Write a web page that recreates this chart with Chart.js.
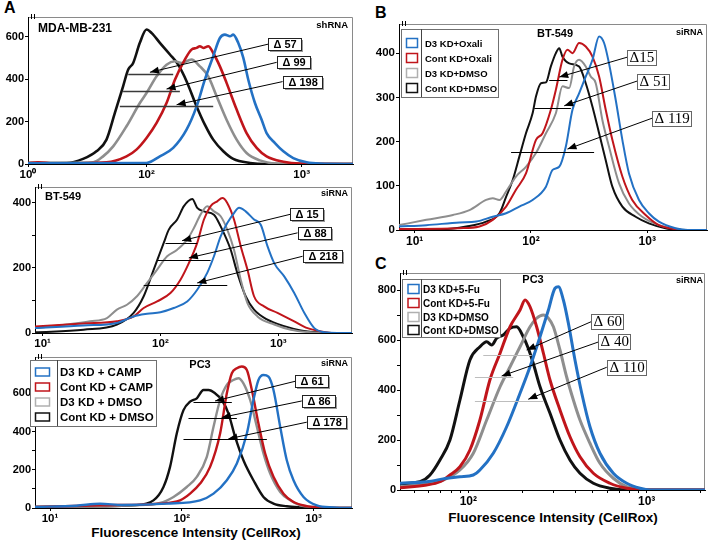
<!DOCTYPE html>
<html>
<head>
<meta charset="utf-8">
<script src="https://cdn.jsdelivr.net/npm/chart.js@4.4.0/dist/chart.umd.min.js"></script>
<style>
  body { margin: 0; width: 708px; height: 541px; background: #fff; position: relative; overflow: hidden; }
  canvas { position: absolute; }
  .letter { position: absolute; font: bold 16px "Liberation Sans", Arial, sans-serif; line-height: 1; }
  .xtitle { position: absolute; font: bold 13.5px "Liberation Sans", Arial, sans-serif; line-height: 1; white-space: nowrap; transform: translateX(-50%); }
</style>
</head>
<body>
<div class="letter" style="left:4px;top:0px">A</div>
<div class="letter" style="left:375px;top:5px">B</div>
<div class="letter" style="left:375px;top:256px">C</div>
<div class="xtitle" style="left:196px;top:526px">Fluorescence Intensity (CellRox)</div>
<div class="xtitle" style="left:553px;top:511px">Fluorescence Intensity (CellRox)</div>
<canvas id="a1"></canvas>
<canvas id="a2"></canvas>
<canvas id="a3"></canvas>
<canvas id="b1"></canvas>
<canvas id="c1"></canvas>
<script>
const FONT = '"Liberation Sans", Arial, sans-serif';
Chart.defaults.font.family = FONT;
Chart.defaults.color = '#000';

// x = log10(CellRox intensity), y = cell count

// A, MDA-MB-231 (shRNA)
const mdaBlue = [[1.236,3],[2.0,5],[2.086,36],[2.172,76],[2.258,162],[2.323,272],[2.376,398],[2.430,509],[2.473,595],[2.505,611],[2.538,603],[2.559,611],[2.591,572],[2.624,501],[2.656,398],[2.699,288],[2.742,209],[2.774,146],[2.828,99],[2.882,60],[2.946,28],[3.032,8],[3.118,2],[3.331,0]];
const mdaRed = [[1.236,4],[1.30,8],[1.40,3],[1.742,8],[1.871,36],[1.935,68],[2.0,123],[2.065,194],[2.129,288],[2.183,398],[2.247,493],[2.290,540],[2.323,548],[2.344,556],[2.366,548],[2.398,556],[2.430,524],[2.473,461],[2.516,383],[2.581,257],[2.645,146],[2.710,76],[2.774,36],[2.882,11],[2.989,2],[3.331,0]];
const mdaGray = [[1.236,4],[1.656,8],[1.720,36],[1.785,83],[1.871,178],[1.957,288],[2.0,335],[2.065,414],[2.129,469],[2.183,485],[2.226,477],[2.290,493],[2.344,461],[2.398,414],[2.452,320],[2.516,209],[2.581,115],[2.645,52],[2.731,17],[2.839,2],[2.95,0],[3.331,0]];
const mdaBlack = [[1.236,4],[1.484,5],[1.591,24],[1.677,60],[1.742,115],[1.796,241],[1.849,367],[1.882,446],[1.914,477],[1.957,572],[2.0,635],[2.032,619],[2.086,572],[2.151,517],[2.204,469],[2.258,391],[2.323,272],[2.376,186],[2.430,115],[2.495,60],[2.559,24],[2.667,5],[2.774,0],[3.331,0]];

// A, BT-549 (siRNA)
const btABlue = [[0.936,15],[1.348,23],[1.631,31],[1.773,51],[1.887,59],[2.0,64],[2.113,77],[2.227,97],[2.312,133],[2.397,185],[2.454,236],[2.511,297],[2.567,338],[2.624,369],[2.667,385],[2.723,374],[2.794,349],[2.851,333],[2.908,267],[2.965,215],[3.050,174],[3.135,123],[3.220,62],[3.305,15],[3.390,2],[3.50,0],[3.625,0]];
const btARed = [[0.936,20],[1.348,29],[1.631,36],[1.773,51],[1.858,77],[1.972,97],[2.085,123],[2.170,164],[2.241,215],[2.312,277],[2.369,349],[2.426,390],[2.482,405],[2.525,415],[2.567,400],[2.624,349],[2.681,267],[2.738,195],[2.794,113],[2.879,82],[2.993,62],[3.135,36],[3.248,15],[3.362,5],[3.475,0],[3.625,0]];
const btAGray = [[0.936,15],[1.206,26],[1.404,36],[1.546,46],[1.631,72],[1.716,87],[1.801,113],[1.887,154],[1.972,195],[2.057,236],[2.142,256],[2.227,287],[2.284,323],[2.340,364],[2.397,390],[2.454,374],[2.511,359],[2.567,318],[2.624,256],[2.681,164],[2.738,92],[2.823,51],[2.965,26],[3.106,10],[3.248,3],[3.40,0],[3.625,0]];
const btABlack = [[0.936,2],[1.348,10],[1.631,26],[1.773,62],[1.858,113],[1.943,195],[2.028,277],[2.071,318],[2.142,349],[2.199,390],[2.270,412],[2.312,385],[2.369,374],[2.454,364],[2.511,328],[2.596,256],[2.652,185],[2.723,113],[2.794,72],[2.908,41],[3.050,21],[3.191,8],[3.333,2],[3.45,0],[3.625,0]];

// A, PC3 (siRNA)
const pcABlue = [[0.886,5],[1.20,12],[1.38,22],[1.55,16],[1.886,23],[2.139,40],[2.241,75],[2.342,145],[2.418,233],[2.494,390],[2.544,565],[2.582,670],[2.620,696],[2.658,687],[2.696,617],[2.747,425],[2.797,250],[2.848,145],[2.924,58],[3.025,14],[3.152,3],[3.25,0],[3.292,0]];
const pcARed = [[0.886,5],[1.380,14],[1.835,23],[1.987,40],[2.063,75],[2.139,128],[2.215,215],[2.291,390],[2.342,600],[2.380,705],[2.418,731],[2.456,740],[2.494,722],[2.532,617],[2.582,442],[2.633,285],[2.696,163],[2.772,75],[2.848,31],[2.949,10],[3.051,3],[3.15,0],[3.292,0]];
const pcAGray = [[0.886,5],[1.633,14],[1.835,26],[1.937,58],[2.038,110],[2.114,163],[2.190,268],[2.241,425],[2.291,565],[2.342,644],[2.392,670],[2.430,679],[2.468,652],[2.519,565],[2.570,425],[2.620,285],[2.671,180],[2.747,84],[2.823,40],[2.899,14],[3.025,5],[3.10,0],[3.292,0]];
const pcABlack = [[0.886,5],[1.380,9],[1.633,14],[1.785,40],[1.861,110],[1.911,215],[1.962,390],[2.013,512],[2.063,556],[2.114,574],[2.165,617],[2.203,617],[2.253,600],[2.304,565],[2.354,495],[2.405,372],[2.468,250],[2.544,145],[2.620,58],[2.696,23],[2.797,9],[2.899,3],[3.0,0],[3.292,0]];

// B, BT-549 (siRNA)
const btBBlue = [[0.865,8],[1.1,11],[1.386,17],[1.529,19],[1.671,30],[1.786,38],[1.9,53],[2.014,68],[2.129,98],[2.186,136],[2.243,143],[2.3,189],[2.357,272],[2.414,309],[2.471,347],[2.529,385],[2.586,438],[2.629,423],[2.671,377],[2.729,294],[2.786,204],[2.843,128],[2.929,68],[3.014,38],[3.1,19],[3.243,4],[3.35,0],[3.514,0]];
const btBRed = [[0.865,2],[1.386,4],[1.557,8],[1.671,23],[1.786,53],[1.871,91],[1.957,128],[2.043,204],[2.1,219],[2.171,272],[2.214,317],[2.271,385],[2.314,408],[2.357,400],[2.414,423],[2.471,415],[2.529,392],[2.586,347],[2.643,272],[2.7,204],[2.786,121],[2.871,68],[2.986,34],[3.1,11],[3.243,2],[3.35,0],[3.514,0]];
const btBGray = [[0.865,11],[1.1,23],[1.329,34],[1.471,45],[1.614,68],[1.671,72],[1.729,68],[1.786,87],[1.871,121],[1.957,143],[2.043,174],[2.129,219],[2.214,264],[2.271,325],[2.329,321],[2.371,370],[2.414,385],[2.471,370],[2.514,347],[2.557,332],[2.614,249],[2.671,189],[2.757,106],[2.843,60],[2.957,30],[3.1,11],[3.243,3],[3.35,0],[3.514,0]];
const btBBlack = [[0.865,2],[1.243,2],[1.443,8],[1.614,19],[1.729,38],[1.786,75],[1.843,113],[1.9,166],[1.957,219],[2.014,264],[2.043,302],[2.086,332],[2.129,334],[2.171,370],[2.214,400],[2.243,411],[2.271,392],[2.329,377],[2.414,370],[2.471,332],[2.529,279],[2.586,219],[2.643,158],[2.7,98],[2.786,53],[2.9,30],[3.014,15],[3.157,4],[3.271,0],[3.514,0]];

// C, PC3 (siRNA)
const pcCBlue = [[1.617,27],[1.766,33],[1.879,47],[1.953,53],[2.028,60],[2.065,80],[2.140,147],[2.215,253],[2.290,387],[2.346,493],[2.402,613],[2.449,720],[2.486,807],[2.505,813],[2.533,760],[2.561,667],[2.598,520],[2.636,387],[2.682,253],[2.738,147],[2.813,67],[2.888,27],[2.963,7],[3.019,0],[3.327,0]];
const pcCRed = [[1.617,9],[1.766,20],[1.841,33],[1.897,60],[1.953,93],[2.009,160],[2.065,280],[2.121,440],[2.178,547],[2.234,653],[2.290,720],[2.318,760],[2.346,733],[2.383,653],[2.421,547],[2.458,440],[2.514,320],[2.570,213],[2.626,133],[2.701,67],[2.794,27],[2.888,7],[2.981,0],[3.327,0]];
const pcCGray = [[1.617,13],[1.766,24],[1.860,40],[1.953,80],[2.028,147],[2.103,280],[2.178,413],[2.234,493],[2.290,573],[2.346,653],[2.383,687],[2.421,700],[2.449,687],[2.477,653],[2.514,560],[2.551,453],[2.589,360],[2.626,280],[2.682,187],[2.738,107],[2.813,47],[2.888,13],[2.981,0],[3.327,0]];
const pcCBlack = [[1.617,25],[1.729,33],[1.785,60],[1.841,120],[1.897,200],[1.953,360],[2.009,520],[2.065,573],[2.103,593],[2.131,580],[2.159,607],[2.196,620],[2.234,647],[2.271,653],[2.308,613],[2.336,567],[2.364,507],[2.402,413],[2.458,307],[2.514,200],[2.570,120],[2.626,67],[2.701,27],[2.794,7],[2.888,0],[3.327,0]];

const campNames = ['D3 KD + CAMP', 'Cont KD + CAMP', 'D3 KD + DMSO', 'Cont KD + DMSO'];
const oxaliNames = ['D3 KD+Oxali', 'Cont KD+Oxali', 'D3 KD+DMSO', 'Cont KD+DMSO'];
const fuNames = ['D3 KD+5-Fu', 'Cont KD+5-Fu', 'D3 KD+DMSO', 'Cont KD+DMSO'];

// tick labels
const mdaXTicks = [1.236, 2, 3];
const mdaXLabels = ['10⁰', '10²', '10³'];
const stdXTicks = [1, 2, 3];
const stdXLabels = ['10¹', '10²', '10³'];
const pcCXTicks = [2, 3];
const pcCXLabels = ['10²', '10³'];
const pcCMinor = [50, 60, 70, 80, 90, 200, 300, 400, 500, 600, 700, 800, 900, 2000];

const mdaYTicks = [0, 200, 400, 600];
const btAYTicks = [0, 100, 200, 300, 400];
const btAYLabels = [0, 200, 400];
const pcAYTicks = [0, 100, 200, 300, 400, 500, 600, 700];
const pcAYLabels = [0, 200, 400, 600];
const btBYTicks = [0, 100, 200, 300, 400];
const pcCYTicks = [0, 50, 100, 150, 200, 250, 300, 350, 400, 450, 500, 550, 600, 650, 700, 750, 800, 850];
const pcCYLabels = [0, 200, 400, 600, 800];

// delta annotations (data coordinates)
const mdaNotes = [
  { label: 'Δ 57', y: 427, from: 1.882, to: 2.172, tip: [2.022, 433], box: [2.785, 566] },
  { label: 'Δ 99', y: 346, from: 1.849, to: 2.215, tip: [2.129, 354], box: [2.839, 480] },
  { label: 'Δ 198', y: 272, from: 1.828, to: 2.430, tip: [2.194, 280], box: [2.877, 389] }
];
const btANotes = [
  { label: 'Δ 15', y: 277, from: 2.043, to: 2.312, tip: [2.184, 284], box: [3.101, 365] },
  { label: 'Δ 88', y: 226, from: 1.972, to: 2.426, tip: [2.241, 231], box: [3.163, 308] },
  { label: 'Δ 218', y: 149, from: 1.858, to: 2.567, tip: [2.312, 154], box: [3.206, 236] }
];
const pcANotes = [
  { label: 'Δ 61', y: 556, from: 2.089, to: 2.380, tip: [2.253, 560], box: [2.861, 663] },
  { label: 'Δ 86', y: 469, from: 2.051, to: 2.418, tip: [2.304, 474], box: [2.911, 560] },
  { label: 'Δ 178', y: 359, from: 2.013, to: 2.646, tip: [2.354, 362], box: [2.949, 449] }
];
const btBNotes = [
  { label: 'Δ15', y: 340, from: 2.157, to: 2.314, tip: [2.243, 346], box: [2.829, 391] },
  { label: 'Δ 51', y: 275, from: 2.029, to: 2.343, tip: [2.286, 281], box: [2.914, 337] },
  { label: 'Δ 119', y: 177, from: 1.829, to: 2.543, tip: [2.314, 183], box: [3.043, 253] }
];
const pcCNotes = [
  { label: 'Δ 60', y: 540, from: 2.084, to: 2.355, tip: [2.327, 560], box: [2.688, 673] },
  { label: 'Δ 40', y: 451, from: 2.037, to: 2.252, tip: [2.187, 456], box: [2.729, 592] },
  { label: 'Δ 110', y: 357, from: 2.037, to: 2.421, tip: [2.336, 363], box: [2.776, 491] }
];

const colors = ['#2371c4', '#c0151b', '#8e8e8e', '#111111'];

const boxA = { font: 'bold 11px ' + FONT, padX: 5, h: 12, shadow: true, border: '#222', lineColor: '#333' };
const boxB = { font: '15px "Liberation Serif", "Times New Roman", serif', padX: 2, h: 15, shadow: false, border: '#666', lineColor: '#000' };

function line(ctx, x1, y1, x2, y2) {
  ctx.beginPath(); ctx.moveTo(x1, y1); ctx.lineTo(x2, y2); ctx.stroke();
}

const decor = {
  id: 'decor',
  beforeDatasetsDraw(chart) {
    const { ctx, chartArea: a } = chart;
    ctx.save();
    ctx.strokeStyle = '#8a8a8a';
    ctx.lineWidth = 1;
    ctx.beginPath();
    ctx.moveTo(a.left + 1, a.top + 0.5);
    ctx.lineTo(a.right - 0.5, a.top + 0.5);
    ctx.lineTo(a.right - 0.5, a.bottom);
    ctx.stroke();
    ctx.strokeStyle = '#000';
    line(ctx, a.left + 3.5, a.top - 3, a.left + 3.5, a.top + 2);
    line(ctx, a.left + 6.5, a.top - 3, a.left + 6.5, a.top + 2);
    ctx.restore();
  },
  afterDatasetsDraw(chart, args, o) {
    const { ctx, chartArea: a, scales: { x, y } } = chart;
    ctx.save();
    const st = o.style;
    (o.notes || []).forEach(n => {
      const yy = Math.round(y.getPixelForValue(n.y)) + 0.5;
      ctx.strokeStyle = o.lineColor || st.lineColor;
      ctx.lineWidth = o.lineWidth || 1;
      line(ctx, x.getPixelForValue(n.from), yy, x.getPixelForValue(n.to), yy);
      const tx = x.getPixelForValue(n.tip[0]), ty = y.getPixelForValue(n.tip[1]);
      const bx = x.getPixelForValue(n.box[0]), by = y.getPixelForValue(n.box[1]);
      ctx.strokeStyle = '#000';
      ctx.lineWidth = 1;
      line(ctx, bx, by, tx, ty);
      const ang = Math.atan2(ty - by, tx - bx), L = 9, W = 3.5;
      ctx.fillStyle = '#000';
      ctx.beginPath();
      ctx.moveTo(tx, ty);
      ctx.lineTo(tx - L * Math.cos(ang) + W * Math.sin(ang), ty - L * Math.sin(ang) - W * Math.cos(ang));
      ctx.lineTo(tx - L * Math.cos(ang) - W * Math.sin(ang), ty - L * Math.sin(ang) + W * Math.cos(ang));
      ctx.closePath();
      ctx.fill();
      ctx.font = st.font;
      const w = Math.round(ctx.measureText(n.label).width + 2 * st.padX), h = st.h;
      const left = Math.round(bx), top = Math.round(by - h / 2);
      if (st.shadow) { ctx.fillStyle = '#9a9a9a'; ctx.fillRect(left + 2, top + 2, w, h); }
      ctx.fillStyle = '#fff';
      ctx.fillRect(left, top, w, h);
      ctx.strokeStyle = st.border;
      ctx.strokeRect(left + 0.5, top + 0.5, w, h);
      ctx.fillStyle = '#000';
      ctx.textAlign = 'left';
      ctx.textBaseline = 'middle';
      ctx.fillText(n.label, left + st.padX + 0.5, top + h / 2 + 1);
    });
    const lg = o.legend;
    if (lg) {
      const lx = Math.round(a.left + lg.dx), ly = Math.round(a.top + lg.dy);
      ctx.fillStyle = '#fff';
      ctx.fillRect(lx, ly, lg.w, lg.h);
      ctx.strokeStyle = '#707070';
      ctx.lineWidth = 1;
      ctx.strokeRect(lx + 0.5, ly + 0.5, lg.w, lg.h);
      ctx.strokeStyle = '#444';
      line(ctx, lx + lg.sep + 0.5, ly, lx + lg.sep + 0.5, ly + lg.h);
      ctx.font = lg.font;
      ctx.textAlign = 'left';
      ctx.textBaseline = 'middle';
      chart.data.datasets.forEach((d, i) => {
        const cy = Math.round(ly + lg.first + i * lg.step);
        ctx.strokeStyle = i === 2 ? '#b0b0b0' : d.borderColor;
        ctx.lineWidth = 1.5;
        ctx.strokeRect(lx + lg.sx, cy - lg.sh / 2, lg.sw, lg.sh);
        ctx.fillStyle = '#000';
        ctx.fillText(d.label, lx + lg.tx, cy + 1);
      });
    }
    (o.texts || []).forEach(t => {
      ctx.font = t.font;
      ctx.fillStyle = '#000';
      ctx.textAlign = t.align;
      ctx.textBaseline = 'middle';
      const px = t.align === 'right' ? a.right + t.dx : a.left + t.dx;
      ctx.fillText(t.text, px, a.top + t.dy);
    });
    ctx.restore();
  }
};

function makeChart(p) {
  const cv = document.getElementById(p.id);
  cv.width = p.yw + p.w + p.rp;
  cv.height = p.tp + p.h + p.xh;
  cv.style.left = p.left + 'px';
  cv.style.top = p.top + 'px';
  const minor = (p.xMinor || []).map(v => Math.log10(v));
  const xAll = p.xTicks.concat(minor).sort((m, n) => m - n);
  return new Chart(cv, {
    type: 'line',
    data: {
      datasets: p.series.map((s, i) => ({
        label: p.names[i],
        data: s.map(q => ({ x: q[0], y: q[1] })),
        borderColor: colors[i],
        borderWidth: p.lw,
        pointRadius: 0,
        fill: false,
        cubicInterpolationMode: 'monotone'
      }))
    },
    options: {
      responsive: false,
      animation: false,
      events: [],
      layout: { autoPadding: false, padding: { top: p.tp, right: p.rp, left: 0, bottom: 0 } },
      scales: {
        x: {
          type: 'linear',
          min: p.xmin,
          max: p.xmax,
          afterBuildTicks: s => { s.ticks = xAll.map(v => ({ value: v })); },
          afterFit: s => { s.height = p.xh; },
          ticks: {
            autoSkip: false, maxRotation: 0, padding: 1, color: '#000',
            font: { size: p.xFont, weight: 'bold' },
            callback: v => { const k = p.xTicks.indexOf(v); return k >= 0 ? p.xLabels[k] : ''; }
          },
          grid: { drawOnChartArea: false, drawTicks: true, tickLength: 3, color: '#000' },
          border: { color: '#000', width: 1 }
        },
        y: {
          type: 'linear',
          min: 0,
          max: p.ymax,
          afterBuildTicks: s => { s.ticks = p.yTicks.map(v => ({ value: v })); },
          afterFit: s => { s.width = p.yw; },
          ticks: {
            padding: 1, color: '#000',
            font: { size: p.yFont, weight: 'bold' },
            callback: v => (p.yLabels.includes(v) ? String(v) : '')
          },
          grid: { drawOnChartArea: false, drawTicks: true, tickLength: 3, color: '#000' },
          border: { color: '#000', width: 1 }
        }
      },
      plugins: {
        legend: { display: false },
        tooltip: { enabled: false },
        decor: { notes: p.notes, style: p.style, lineColor: p.lineColor, lineWidth: p.lineWidth, legend: p.legend, texts: p.texts }
      }
    },
    plugins: [decor]
  });
}

const titleFont = 'bold 11px ' + FONT;
const tagFont = 'bold 9px ' + FONT;

makeChart({
  id: 'a1', left: 0, top: 0, yw: 28, tp: 17, w: 325, h: 147, rp: 3, xh: 20,
  xmin: 1.236, xmax: 3.331, ymax: 694, lw: 2.6, xFont: 11.5, yFont: 11,
  series: [mdaBlue, mdaRed, mdaGray, mdaBlack], names: campNames,
  xTicks: mdaXTicks, xLabels: mdaXLabels, yTicks: mdaYTicks, yLabels: mdaYTicks,
  notes: mdaNotes, style: boxA, lineColor: '#3a3a3a', lineWidth: 1.6,
  texts: [
    { text: 'MDA-MB-231', font: 'bold 12px ' + FONT, align: 'left', dx: 10, dy: 12 },
    { text: 'shRNA', font: 'bold 9.5px ' + FONT, align: 'right', dx: -5, dy: 8 }
  ]
});

makeChart({
  id: 'a2', left: 0, top: 170, yw: 35, tp: 17, w: 317, h: 146, rp: 3, xh: 20,
  xmin: 0.936, xmax: 3.625, ymax: 449, lw: 2, xFont: 11.5, yFont: 11,
  series: [btABlue, btARed, btAGray, btABlack], names: campNames,
  xTicks: stdXTicks, xLabels: stdXLabels, yTicks: btAYTicks, yLabels: btAYLabels,
  notes: btANotes, style: boxA, lineColor: '#000', lineWidth: 1,
  texts: [
    { text: 'BT-549', font: titleFont, align: 'left', dx: 10, dy: 10 },
    { text: 'siRNA', font: tagFont, align: 'right', dx: -4, dy: 7 }
  ]
});

makeChart({
  id: 'a3', left: 0, top: 340, yw: 35, tp: 17, w: 317, h: 151, rp: 3, xh: 20,
  xmin: 0.886, xmax: 3.292, ymax: 790, lw: 2.4, xFont: 11.5, yFont: 11,
  series: [pcABlue, pcARed, pcAGray, pcABlack], names: campNames,
  xTicks: stdXTicks, xLabels: stdXLabels, yTicks: pcAYTicks, yLabels: pcAYLabels,
  notes: pcANotes, style: boxA, lineColor: '#000', lineWidth: 1,
  legend: { dx: -5, dy: 3, w: 126, h: 66, sep: 27, sx: 5.5, sw: 14, sh: 8, tx: 30, first: 12, step: 15, font: 'bold 11.5px ' + FONT },
  texts: [
    { text: 'PC3', font: titleFont, align: 'center', dx: 165, dy: 8 },
    { text: 'siRNA', font: tagFont, align: 'right', dx: -4, dy: 7 }
  ]
});

makeChart({
  id: 'b1', left: 367, top: 4, yw: 32, tp: 20, w: 308, h: 206, rp: 1, xh: 22,
  xmin: 0.865, xmax: 3.514, ymax: 466, lw: 2, xFont: 12, yFont: 11.5,
  series: [btBBlue, btBRed, btBGray, btBBlack], names: oxaliNames,
  xTicks: stdXTicks, xLabels: stdXLabels, yTicks: btBYTicks, yLabels: btBYTicks,
  notes: btBNotes, style: boxB, lineColor: '#000', lineWidth: 1,
  legend: { dx: 2, dy: 5, w: 97, h: 68, sep: 20, sx: 5.5, sw: 11, sh: 9, tx: 24, first: 13.5, step: 15, font: 'bold 9.5px ' + FONT },
  texts: [
    { text: 'BT-549', font: titleFont, align: 'center', dx: 156, dy: 10 },
    { text: 'siRNA', font: tagFont, align: 'right', dx: -4, dy: 9 }
  ]
});

makeChart({
  id: 'c1', left: 368, top: 258, yw: 32, tp: 15, w: 305, h: 217, rp: 3, xh: 22,
  xmin: 1.617, xmax: 3.327, ymax: 868, lw: 3, xFont: 12, yFont: 11,
  series: [pcCBlue, pcCRed, pcCGray, pcCBlack], names: fuNames,
  xTicks: pcCXTicks, xLabels: pcCXLabels, xMinor: pcCMinor, yTicks: pcCYTicks, yLabels: pcCYLabels,
  notes: pcCNotes, style: boxB, lineColor: '#bdbdbd', lineWidth: 1,
  legend: { dx: 2, dy: 6, w: 98, h: 58, sep: 19, sx: 6, sw: 11, sh: 9, tx: 21, first: 10, step: 13.8, font: 'bold 10px ' + FONT },
  texts: [
    { text: 'PC3', font: titleFont, align: 'center', dx: 133, dy: 7 },
    { text: 'siRNA', font: tagFont, align: 'right', dx: -2, dy: 8 }
  ]
});
</script>
</body>
</html>
